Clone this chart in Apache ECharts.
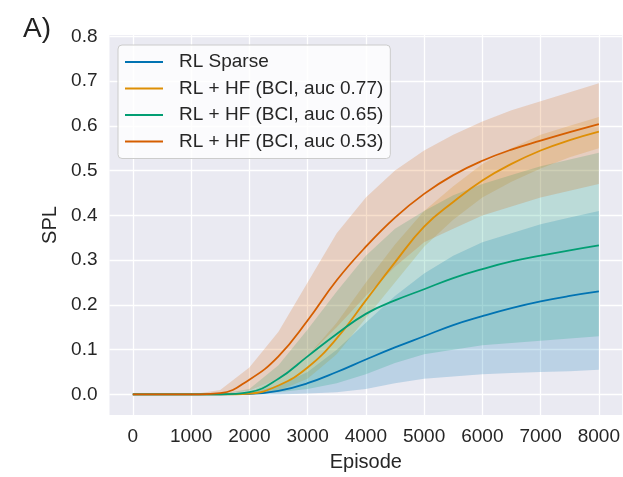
<!DOCTYPE html>
<html>
<head>
<meta charset="utf-8">
<script src="https://cdn.jsdelivr.net/npm/echarts@6/dist/echarts.min.js"></script>
<style>
  html, body { margin: 0; padding: 0; background: #fff; }
  #chart { width: 623px; height: 477px; }
</style>
</head>
<body>
<div id="chart"></div>
<script>
// episodes sampled every 500
const episodes = [0, 500, 1000, 1500, 2000, 2500, 3000, 3500, 4000, 4500, 5000, 5500, 6000, 6500, 7000, 7500, 8000];
const xTicks = [0, 1000, 2000, 3000, 4000, 5000, 6000, 7000, 8000];
const yTicks = [0, 0.1, 0.2, 0.3, 0.4, 0.5, 0.6, 0.7, 0.8];

const names = ['RL Sparse', 'RL + HF (BCI, auc 0.77)', 'RL + HF (BCI, auc 0.65)', 'RL + HF (BCI, auc 0.53)'];
const colors = ['#0173b2', '#de8f05', '#029e73', '#d55e00'];

const sparseMean  = [0, 0, 0, 0, 0.001, 0.008, 0.025, 0.05, 0.078, 0.105, 0.13, 0.155, 0.175, 0.193, 0.208, 0.22, 0.23];
const sparseUpper = [0, 0, 0, 0, 0.003, 0.02, 0.05, 0.1, 0.16, 0.22, 0.27, 0.31, 0.34, 0.36, 0.38, 0.395, 0.41];
const sparseLower = [0, 0, 0, 0, 0, 0, 0.002, 0.005, 0.012, 0.025, 0.035, 0.04, 0.045, 0.048, 0.05, 0.052, 0.055];

const auc77Mean  = [0, 0, 0, 0, 0.002, 0.02, 0.06, 0.125, 0.21, 0.295, 0.375, 0.43, 0.478, 0.515, 0.545, 0.568, 0.587];
const auc77Upper = [0, 0, 0, 0.001, 0.006, 0.035, 0.085, 0.16, 0.25, 0.335, 0.41, 0.465, 0.515, 0.55, 0.58, 0.6, 0.62];
const auc77Lower = [0, 0, 0, 0, 0, 0.008, 0.035, 0.09, 0.17, 0.25, 0.33, 0.39, 0.44, 0.475, 0.505, 0.53, 0.55];

const auc65Mean  = [0, 0, 0, 0, 0.005, 0.035, 0.085, 0.135, 0.18, 0.21, 0.235, 0.26, 0.28, 0.297, 0.31, 0.322, 0.333];
const auc65Upper = [0, 0, 0, 0.001, 0.012, 0.065, 0.145, 0.23, 0.31, 0.37, 0.41, 0.445, 0.47, 0.49, 0.51, 0.525, 0.54];
const auc65Lower = [0, 0, 0, 0, 0, 0.005, 0.012, 0.025, 0.045, 0.07, 0.09, 0.1, 0.11, 0.115, 0.12, 0.125, 0.13];

const auc53Mean  = [0, 0, 0, 0.003, 0.033, 0.085, 0.165, 0.255, 0.33, 0.395, 0.448, 0.49, 0.522, 0.547, 0.567, 0.586, 0.604];
const auc53Upper = [0, 0, 0, 0.01, 0.06, 0.14, 0.25, 0.36, 0.44, 0.5, 0.545, 0.58, 0.61, 0.635, 0.655, 0.675, 0.695];
const auc53Lower = [0, 0, 0, 0, 0.008, 0.035, 0.085, 0.15, 0.22, 0.285, 0.34, 0.37, 0.4, 0.42, 0.44, 0.455, 0.47];

const means = [sparseMean, auc77Mean, auc65Mean, auc53Mean];
const uppers = [sparseUpper, auc77Upper, auc65Upper, auc53Upper];
const lowers = [sparseLower, auc77Lower, auc65Lower, auc53Lower];

const font = "'Liberation Sans', Arial, sans-serif";

function hexA(hex, a) {
  const n = parseInt(hex.slice(1), 16);
  return 'rgba(' + (n >> 16) + ',' + ((n >> 8) & 255) + ',' + (n & 255) + ',' + a + ')';
}

const series = [];
// confidence bands, one polygon each, placed with the axis scales
means.forEach((m, i) => {
  series.push({
    type: 'custom', silent: true, z: 1,
    data: episodes.map((e, k) => [e, lowers[i][k], uppers[i][k]]),
    encode: { x: 0, y: [1, 2] },
    renderItem: (params, api) => {
      if (params.dataIndex !== 0) return null;
      const pts = [];
      episodes.forEach((e, k) => pts.push(api.coord([e, uppers[i][k]])));
      for (let k = episodes.length - 1; k >= 0; k--) pts.push(api.coord([episodes[k], lowers[i][k]]));
      return {
        type: 'polygon',
        shape: { points: pts },
        style: { fill: hexA(colors[i], 0.2) }
      };
    }
  });
});
// mean lines
means.forEach((m, i) => {
  series.push({
    name: names[i], type: 'line', symbol: 'none', smooth: 0.45,
    lineStyle: { color: colors[i], width: 1.8 },
    itemStyle: { color: colors[i] },
    data: episodes.map((e, k) => [e, m[k]]),
    z: 3
  });
});

const chart = echarts.init(document.getElementById('chart'), null, { renderer: 'canvas' });
chart.setOption({
  animation: false,
  backgroundColor: '#ffffff',
  title: {
    text: 'A)', left: 18, top: 10,
    textStyle: { fontFamily: font, fontSize: 28, fontWeight: 'normal', color: '#222' }
  },
  grid: {
    left: 109.5, top: 35, width: 516, height: 385,
    show: true, backgroundColor: '#eaeaf2', borderWidth: 0
  },
  legend: {
    data: names, orient: 'vertical', left: 118, top: 45,
    padding: [7, 7, 7, 7], itemGap: 6.5, itemWidth: 38, itemHeight: 2, icon: 'rect',
    backgroundColor: 'rgba(255,255,255,0.8)', borderColor: '#cccccc', borderWidth: 1, borderRadius: 4,
    textStyle: { fontFamily: font, fontSize: 19, color: '#262626', lineHeight: 20, padding: [0, 0, 0, 11] }
  },
  xAxis: {
    type: 'value', min: -400, max: 8400,
    name: 'Episode', nameLocation: 'middle', nameGap: 37,
    nameTextStyle: { fontFamily: font, fontSize: 20, color: '#262626' },
    axisLine: { show: false },
    axisTick: { show: false, customValues: xTicks },
    axisLabel: {
      customValues: xTicks, margin: 12, fontFamily: font, fontSize: 19, color: '#262626',
      formatter: v => String(v)
    },
    splitLine: { show: true, lineStyle: { color: '#ffffff', width: 1.3 } }
  },
  yAxis: {
    type: 'value', min: -0.046, max: 0.803,
    name: 'SPL', nameLocation: 'middle', nameGap: 47, nameRotate: 90,
    nameTextStyle: { fontFamily: font, fontSize: 20, color: '#262626' },
    axisLine: { show: false },
    axisTick: { show: false, customValues: yTicks },
    axisLabel: {
      customValues: yTicks, margin: 12, fontFamily: font, fontSize: 19, color: '#262626',
      formatter: v => v.toFixed(1)
    },
    splitLine: { show: true, lineStyle: { color: '#ffffff', width: 1.3 } }
  },
  series: series
});
</script>
</body>
</html>
